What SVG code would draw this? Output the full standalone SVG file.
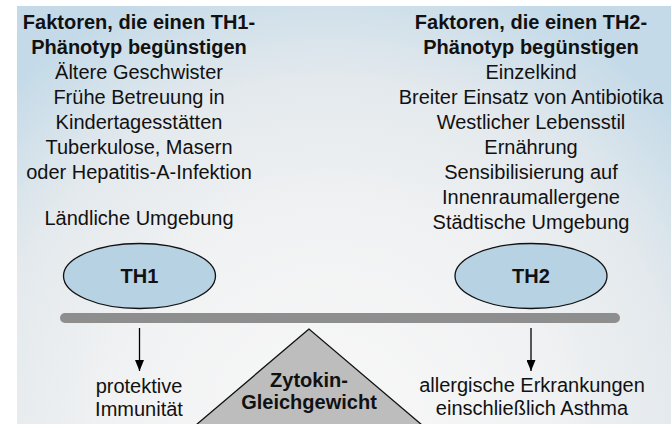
<svg xmlns="http://www.w3.org/2000/svg" width="671" height="424" viewBox="0 0 671 424">
  <defs>
    <radialGradient id="bg" cx="330" cy="430" r="470" gradientUnits="userSpaceOnUse">
      <stop offset="0" stop-color="#f8f8f8"/>
      <stop offset="0.45" stop-color="#f1f2f3"/>
      <stop offset="0.75" stop-color="#e3e9ed"/>
      <stop offset="1" stop-color="#c4dae8"/>
    </radialGradient>
    <marker id="ah" markerWidth="11" markerHeight="9" refX="11" refY="4.5" orient="auto" markerUnits="userSpaceOnUse" viewBox="0 0 11 9">
      <path d="M0,0 L11,4.5 L0,9 Z" fill="#000"/>
    </marker>
  </defs>
  <style>
    .t { font-family: "Liberation Sans", Arial, sans-serif; font-size: 20px; fill: #111; text-anchor: middle; }
    .b { font-weight: bold; }
    .ell { fill: #b7d2e3; stroke: #111; stroke-width: 1.3; }
    .lbl { font-family: "Liberation Sans", Arial, sans-serif; font-size: 20px; font-weight: bold; fill: #111; text-anchor: middle; }
    .conn { stroke: #000; stroke-width: 1.3; fill: none; }
  </style>
  <rect x="0" y="0" width="671" height="424" fill="#fff"/>
  <rect x="17" y="6" width="654" height="418" fill="url(#bg)"/>

  <g id="th1-factors">
    <text class="t b" x="139" y="29">Faktoren, die einen TH1-</text>
    <text class="t b" x="139" y="54">Phänotyp begünstigen</text>
    <text class="t" x="139" y="79">Ältere Geschwister</text>
    <text class="t" x="139" y="104">Frühe Betreuung in</text>
    <text class="t" x="139" y="129">Kindertagesstätten</text>
    <text class="t" x="139" y="154">Tuberkulose, Masern</text>
    <text class="t" x="139" y="179">oder Hepatitis-A-Infektion</text>
    <text class="t" x="139" y="225">Ländliche Umgebung</text>
  </g>

  <g id="th2-factors">
    <text class="t b" x="531" y="29">Faktoren, die einen TH2-</text>
    <text class="t b" x="531" y="54">Phänotyp begünstigen</text>
    <text class="t" x="531" y="79">Einzelkind</text>
    <text class="t" x="531" y="104">Breiter Einsatz von Antibiotika</text>
    <text class="t" x="531" y="129">Westlicher Lebensstil</text>
    <text class="t" x="531" y="154">Ernährung</text>
    <text class="t" x="531" y="179">Sensibilisierung auf</text>
    <text class="t" x="531" y="204">Innenraumallergene</text>
    <text class="t" x="531" y="229">Städtische Umgebung</text>
  </g>

  <g id="th1">
    <ellipse class="ell" cx="139.5" cy="276" rx="76" ry="32.5"/>
    <text class="lbl" x="139.5" y="283">TH1</text>
  </g>

  <g id="th2">
    <ellipse class="ell" cx="531" cy="276" rx="76" ry="32.5"/>
    <text class="lbl" x="531" y="283">TH2</text>
  </g>

  <g id="beam">
    <line x1="65" y1="318" x2="615" y2="318" stroke="#8e8e8e" stroke-width="10" stroke-linecap="round"/>
  </g>

  <g id="fulcrum">
    <polygon points="309,329 196,425 422,425" fill="#bdbdbd" stroke="#111" stroke-width="1.3"/>
    <text class="lbl" x="309" y="387">Zytokin-</text>
    <text class="lbl" x="309" y="409">Gleichgewicht</text>
  </g>

  <g id="connectors">
    <line class="conn" x1="139.5" y1="328" x2="139.5" y2="371" marker-end="url(#ah)"/>
    <line class="conn" x1="531" y1="328" x2="531" y2="371" marker-end="url(#ah)"/>
  </g>

  <g id="protective">
    <text class="t" x="139" y="393">protektive</text>
    <text class="t" x="139" y="416">Immunität</text>
  </g>

  <g id="allergic">
    <text class="t" x="532" y="392">allergische Erkrankungen</text>
    <text class="t" x="532" y="415">einschließlich Asthma</text>
  </g>
</svg>
